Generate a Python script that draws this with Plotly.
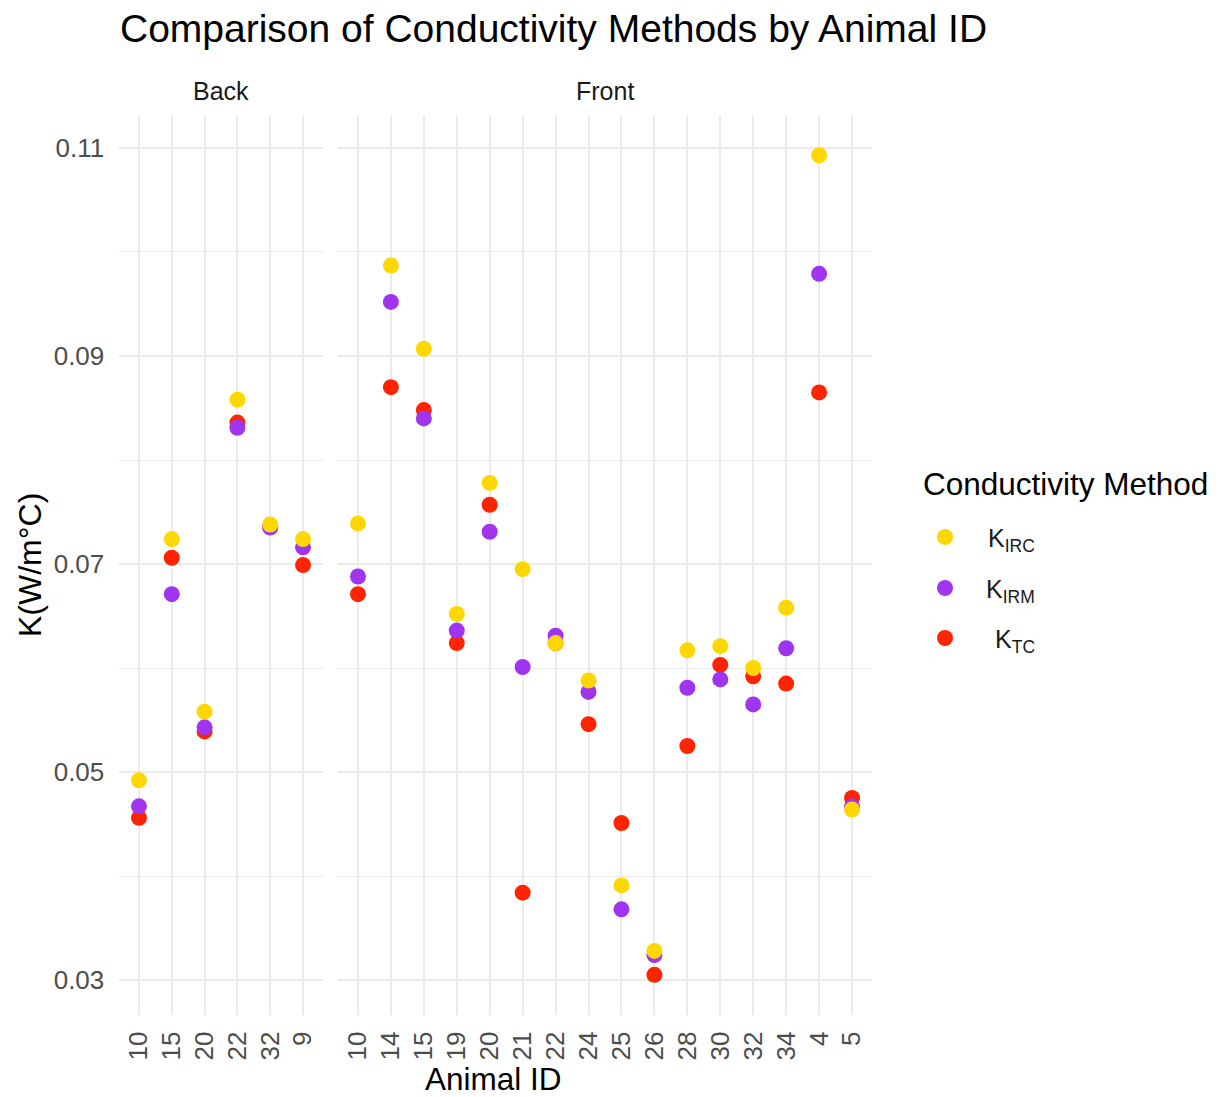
import plotly.graph_objects as go

# Animal IDs per body region (sorted as text, as in the faceted layout)
back_ids = ["10", "15", "20", "22", "32", "9"]
front_ids = ["10", "14", "15", "19", "20", "21", "22", "24",
             "25", "26", "28", "30", "32", "34", "4", "5"]

# Thermal conductivity K (W/m°C) for each method - Back region
back_irc = [0.0492, 0.0724, 0.0558, 0.0858, 0.0738, 0.0724]
back_irm = [0.0467, 0.0671, 0.0543, 0.0831, 0.0735, 0.0716]
back_tc = [0.0456, 0.0706, 0.0539, 0.0836, 0.0736, 0.0699]

# Thermal conductivity K (W/m°C) for each method - Front region
front_irc = [0.0739, 0.0987, 0.0907, 0.0652, 0.0778, 0.0695, 0.0624, 0.0588,
             0.0391, 0.0328, 0.0617, 0.0621, 0.0600, 0.0658, 0.1093, 0.0464]
front_irm = [0.0688, 0.0952, 0.0840, 0.0636, 0.0731, 0.0601, 0.0631, 0.0577,
             0.0368, 0.0324, 0.0581, 0.0589, 0.0565, 0.0619, 0.0979, 0.0467]
front_tc = [0.0671, 0.0870, 0.0848, 0.0624, 0.0757, 0.0384, 0.0624, 0.0546,
            0.0451, 0.0305, 0.0525, 0.0603, 0.0592, 0.0585, 0.0865, 0.0475]

methods = ["K<sub>IRC</sub>", "K<sub>IRM</sub>", "K<sub>TC</sub>"]
colors = {"IRC": "#FFD700", "IRM": "#A035F0", "TC": "#FF2400"}

W, H = 1222, 1097
FONT = "Liberation Sans, Arial, Helvetica, sans-serif"
GRID = "#EBEBEB"
TICK_COL = "#4D4D4D"


def px_x(p):
    return p / W


def px_y(p):
    return 1 - p / H


fig = go.Figure()

# Draw order: TC underneath, then IRM, then IRC on top
panels = [
    ("x", "y", back_ids, {"TC": back_tc, "IRM": back_irm, "IRC": back_irc}),
    ("x2", "y2", front_ids, {"TC": front_tc, "IRM": front_irm, "IRC": front_irc}),
]
for xa, ya, ids, series in panels:
    for key in ["TC", "IRM", "IRC"]:
        fig.add_trace(go.Scatter(
            x=ids, y=series[key], xaxis=xa, yaxis=ya,
            mode="markers",
            marker=dict(size=16, color=colors[key], line=dict(width=0)),
            showlegend=False, name=key,
        ))

y_range = [0.0266, 0.1132]
y_dom = [px_y(1015.4), px_y(114.7)]

common_x = dict(
    type="category", showgrid=True, gridcolor=GRID, gridwidth=2.1,
    zeroline=False, showline=False, ticks="", tickangle=-90,
    tickfont=dict(family=FONT, size=26, color=TICK_COL),
    ticklabelstandoff=10,
)
common_y = dict(
    range=y_range, domain=y_dom, showgrid=True, gridcolor=GRID, gridwidth=2.1,
    zeroline=False, showline=False, ticks="",
    tick0=0.03, dtick=0.02, tickformat=".2f",
    minor=dict(tick0=0.03, dtick=0.01, showgrid=True, gridcolor=GRID, gridwidth=1.2),
    tickfont=dict(family=FONT, size=26, color=TICK_COL),
)

fig.update_layout(
    width=W, height=H,
    margin=dict(l=0, r=0, t=0, b=0),
    paper_bgcolor="white", plot_bgcolor="white",
    xaxis=dict(common_x, domain=[px_x(119.3), px_x(322.7)], range=[-0.6, 5.6],
               categoryorder="array", categoryarray=back_ids, anchor="y"),
    xaxis2=dict(common_x, domain=[px_x(338.2), px_x(871.8)], range=[-0.6, 15.6],
                categoryorder="array", categoryarray=front_ids, anchor="y2"),
    yaxis=dict(common_y, anchor="x", ticklabelstandoff=14),
    yaxis2=dict(common_y, anchor="x2", matches="y", showticklabels=False),
)

annotations = [
    # Title
    dict(text="Comparison of Conductivity Methods by Animal ID", x=px_x(118), y=px_y(28),
         xanchor="left", yanchor="middle", font=dict(family=FONT, size=39, color="black")),
    # Facet strips
    dict(text="Back", x=px_x(221), y=px_y(91), xanchor="center", yanchor="middle",
         font=dict(family=FONT, size=25, color="#1A1A1A")),
    dict(text="Front", x=px_x(605), y=px_y(91), xanchor="center", yanchor="middle",
         font=dict(family=FONT, size=25, color="#1A1A1A")),
    # Axis titles
    dict(text="K(W/m°C)", x=px_x(30), y=px_y(565), textangle=-90,
         xanchor="center", yanchor="middle", font=dict(family=FONT, size=32, color="black")),
    dict(text="Animal ID", x=px_x(494), y=px_y(1079), xanchor="center", yanchor="middle",
         borderpad=0, font=dict(family=FONT, size=31.5, color="black")),
    # Legend title
    dict(text="Conductivity Method", x=px_x(921), y=px_y(484), xanchor="left", yanchor="middle",
         font=dict(family=FONT, size=31.5, color="black")),
]

shapes = []
legend_rows = [537, 588, 638]
for label, key, ry in zip(methods, ["IRC", "IRM", "TC"], legend_rows):
    shapes.append(dict(
        type="circle", xref="paper", yref="paper",
        xsizemode="pixel", ysizemode="pixel",
        xanchor=px_x(945), yanchor=px_y(ry),
        x0=-8, x1=8, y0=-8, y1=8,
        fillcolor=colors[key], line=dict(width=0),
    ))
    annotations.append(dict(
        text=label, x=px_x(1037), y=px_y(ry + 3), xanchor="right", yanchor="middle",
        font=dict(family=FONT, size=25, color="#1A1A1A"),
    ))

for a in annotations:
    a.update(xref="paper", yref="paper", showarrow=False)

fig.update_layout(annotations=annotations, shapes=shapes)

fig.write_html("out.html")
